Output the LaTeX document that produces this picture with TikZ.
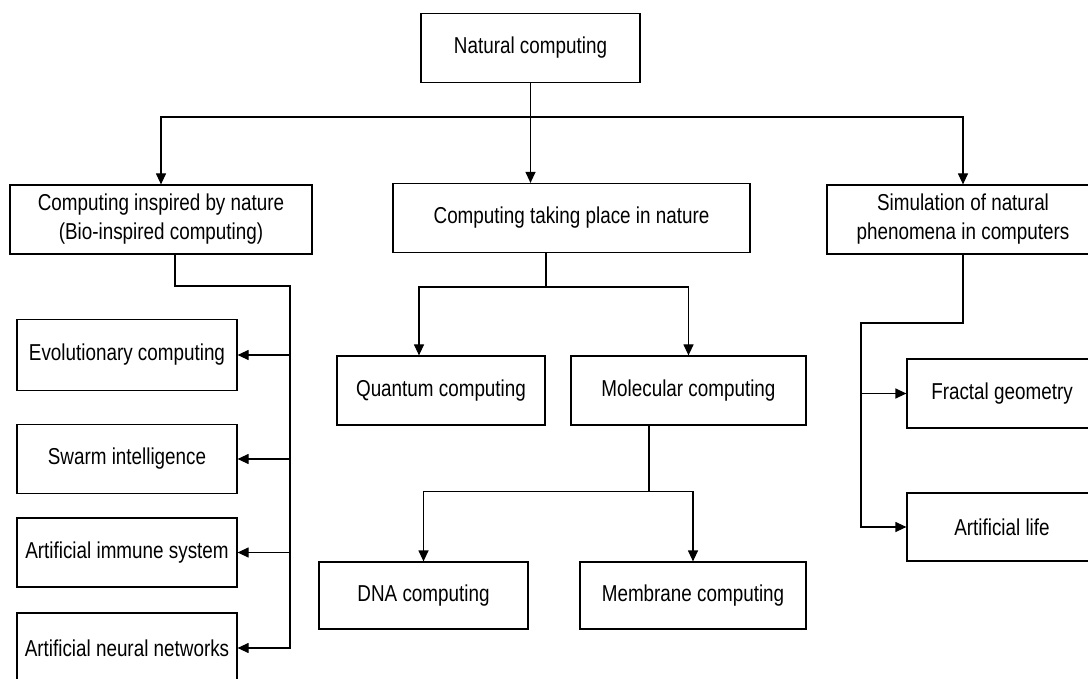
\documentclass[tikz,border=0pt]{standalone}
\usepackage{fontspec}
\setmainfont{Liberation Sans}[FakeStretch=0.82]
\usetikzlibrary{arrows.meta,positioning}
\begin{document}
\begin{tikzpicture}[x=1pt,y=-1pt,>={Triangle[length=11pt,width=10pt]},
  box/.style={draw,line width=1.2pt,inner sep=0pt,minimum height=69pt,align=center,
    font=\fontsize{23}{29}\selectfont},
  link/.style={line width=1.2pt}]
\clip (0,0) rectangle (1088,679);
\node[box,minimum width=219pt] (nat) at (530.5,48) {Natural computing};
\node[box,minimum width=302pt] (insp) at (161,219.5) {Computing inspired by nature\\(Bio-inspired computing)};
\node[box,minimum width=357pt] (inat) at (571.5,218) {Computing taking place in nature};
\node[box,minimum width=272pt] (sim) at (963,219.5) {Simulation of natural\\phenomena in computers};
\node[box,minimum width=220pt,minimum height=71pt] (evo) at (127,355) {Evolutionary computing};
\node[box,minimum width=220pt] (swarm) at (127,459) {Swarm intelligence};
\node[box,minimum width=220pt] (ais) at (127,552.5) {Artificial immune system};
\node[box,minimum width=220pt,minimum height=70pt] (ann) at (127,648) {Artificial neural networks};
\node[box,minimum width=208pt] (quan) at (441,390.5) {Quantum computing};
\node[box,minimum width=235pt] (molec) at (688.5,390.5) {Molecular computing};
\node[box,minimum width=209pt,minimum height=67pt] (dna) at (423.5,595.5) {DNA computing};
\node[box,minimum width=226pt,minimum height=67pt] (memb) at (693,595.5) {Membrane computing};
\node[box,minimum width=190pt] (frac) at (1002,393.5) {Fractal geometry};
\node[box,minimum width=190pt,minimum height=68pt] (alife) at (1002,527) {Artificial life};
\coordinate (lbus) at (290,286);
\coordinate (rbus) at (861,323);
\draw[link,->] (nat.south) -- ++(0,34) -| (insp.north);
\draw[link,->] (nat.south) -- ++(0,34) -| (sim.north);
\draw[link,->] (nat.south) -- (nat.south |- inat.north);
\draw[link,->] ([xshift=14pt]insp.south) |- (lbus) |- (ann.east);
\foreach \leaf in {evo,swarm,ais}
  \draw[link,->] (lbus |- \leaf.east) -- (\leaf.east);
\draw[link,->] ([xshift=-25.5pt]inat.south) -- ++(0,34) -| ([xshift=-22pt]quan.north);
\draw[link,->] ([xshift=-25.5pt]inat.south) -- ++(0,34) -| (molec.north);
\draw[link,->] ([xshift=-39.5pt]molec.south) -- ++(0,66) -| (dna.north);
\draw[link,->] ([xshift=-39.5pt]molec.south) -- ++(0,66) -| (memb.north);
\draw[link,->] (sim.south) |- (rbus) |- (alife.west);
\draw[link,->] (rbus |- frac.west) -- (frac.west);
\end{tikzpicture}
\end{document}
